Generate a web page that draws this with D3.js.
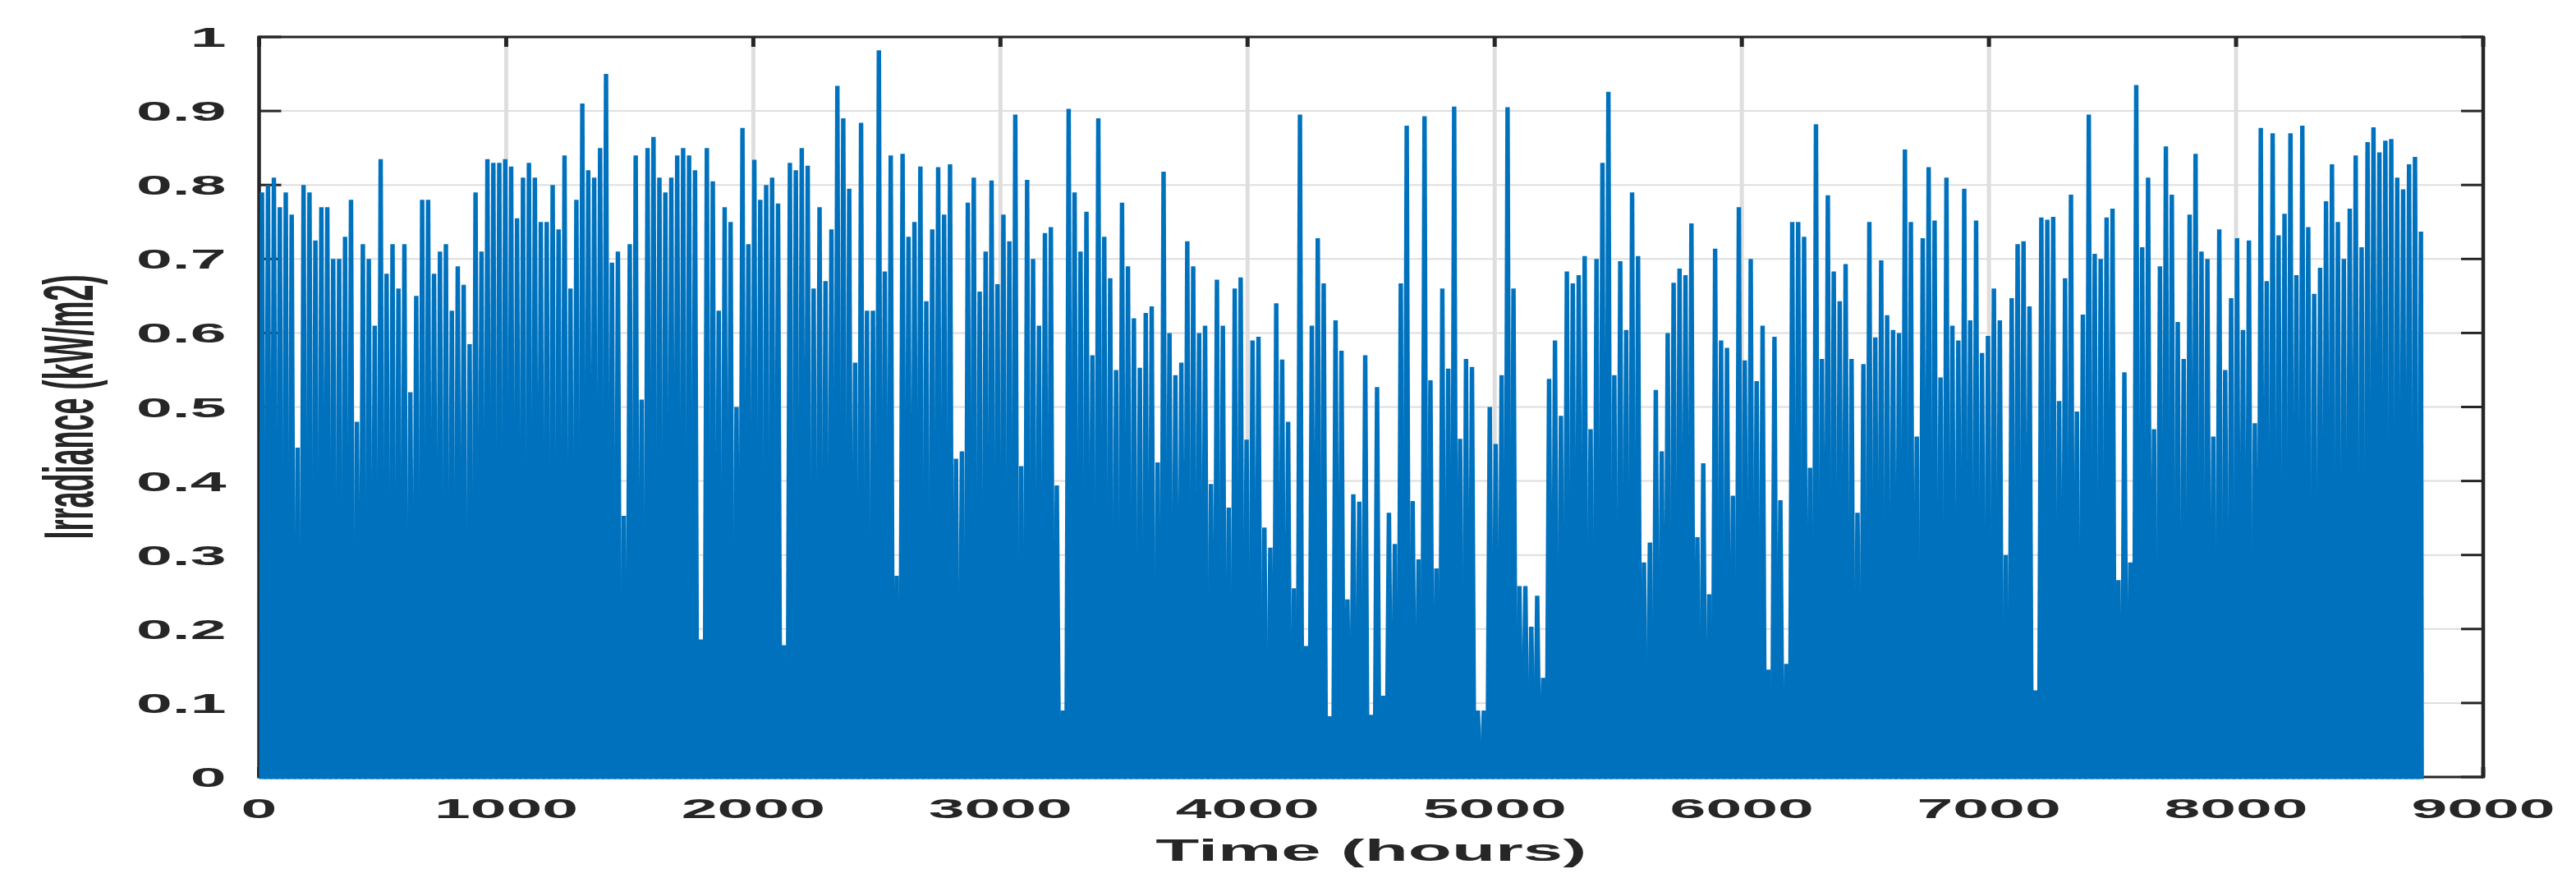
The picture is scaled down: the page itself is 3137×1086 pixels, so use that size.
<!DOCTYPE html>
<html>
<head>
<meta charset="utf-8">
<script src="https://cdn.jsdelivr.net/npm/d3@7/dist/d3.min.js"></script>
<style>
    body { margin: 0; background: #fff; }
    text { font-family: "Liberation Sans", Arial, sans-serif; font-weight: bold; fill: #262626; }
</style>
</head>
<body>
<div class="container"></div>
<script>
// daily peak irradiance (kW/m2), one value per day
var dailyPeak = [
    0.79, 0.80, 0.81, 0.77, 0.79, 0.76, 0.445, 0.80, 0.79, 0.725,
    0.77, 0.77, 0.70, 0.70, 0.73, 0.78, 0.48, 0.72, 0.70, 0.61,
    0.835, 0.68, 0.72, 0.66, 0.72, 0.52, 0.65, 0.78, 0.78, 0.68,
    0.71, 0.72, 0.63, 0.69, 0.665, 0.585, 0.79, 0.71, 0.835, 0.83,
    0.83, 0.835, 0.825, 0.755, 0.81, 0.83, 0.81, 0.75, 0.75, 0.80,
    0.74, 0.84, 0.66, 0.78, 0.91, 0.82, 0.81, 0.85, 0.95, 0.695,
    0.71, 0.353, 0.72, 0.84, 0.51, 0.85, 0.865, 0.81, 0.79, 0.81,
    0.84, 0.85, 0.84, 0.82, 0.186, 0.85, 0.805, 0.63, 0.77, 0.75,
    0.50, 0.877, 0.72, 0.834, 0.78, 0.80, 0.81, 0.775, 0.178, 0.83,
    0.82, 0.85, 0.826, 0.66, 0.77, 0.67, 0.74, 0.934, 0.89, 0.795,
    0.56, 0.884, 0.63, 0.63, 0.982, 0.683, 0.84, 0.272, 0.842, 0.73,
    0.75, 0.825, 0.643, 0.74, 0.824, 0.76, 0.828, 0.43, 0.44, 0.776,
    0.81, 0.656, 0.71, 0.806, 0.666, 0.76, 0.724, 0.895, 0.42, 0.807,
    0.70, 0.61, 0.735, 0.743, 0.394, 0.09, 0.903, 0.79, 0.71, 0.764,
    0.57, 0.89, 0.73, 0.674, 0.55, 0.776, 0.69, 0.62, 0.553, 0.627,
    0.636, 0.425, 0.818, 0.60, 0.543, 0.56, 0.724, 0.69, 0.60, 0.61,
    0.396, 0.672, 0.61, 0.364, 0.66, 0.675, 0.456, 0.59, 0.595, 0.337,
    0.31, 0.64, 0.564, 0.48, 0.255, 0.895, 0.177, 0.61, 0.728, 0.667,
    0.082, 0.617, 0.576, 0.24, 0.382, 0.372, 0.57, 0.084, 0.527, 0.11,
    0.357, 0.315, 0.667, 0.88, 0.373, 0.294, 0.893, 0.536, 0.282, 0.66,
    0.552, 0.906, 0.457, 0.565, 0.554, 0.09, 0.09, 0.50, 0.45, 0.543,
    0.905, 0.66, 0.258, 0.258, 0.203, 0.245, 0.134, 0.538, 0.59, 0.488,
    0.683, 0.667, 0.678, 0.704, 0.47, 0.70, 0.83, 0.926, 0.543, 0.697,
    0.604, 0.79, 0.704, 0.29, 0.317, 0.523, 0.44, 0.60, 0.668, 0.687,
    0.678, 0.748, 0.324, 0.424, 0.247, 0.714, 0.59, 0.58, 0.38, 0.77,
    0.563, 0.70, 0.535, 0.61, 0.145, 0.595, 0.374, 0.153, 0.75, 0.75,
    0.73, 0.418, 0.882, 0.565, 0.786, 0.683, 0.643, 0.693, 0.565, 0.357,
    0.558, 0.75, 0.594, 0.698, 0.624, 0.604, 0.60, 0.848, 0.75, 0.46,
    0.728, 0.824, 0.752, 0.54, 0.81, 0.61, 0.59, 0.795, 0.617, 0.752,
    0.573, 0.596, 0.66, 0.617, 0.30, 0.647, 0.72, 0.724, 0.636, 0.117,
    0.756, 0.753, 0.757, 0.508, 0.674, 0.787, 0.494, 0.625, 0.895, 0.707,
    0.70, 0.756, 0.768, 0.266, 0.547, 0.29, 0.935, 0.716, 0.81, 0.47,
    0.69, 0.852, 0.787, 0.615, 0.565, 0.76, 0.842, 0.71, 0.70, 0.46,
    0.74, 0.55, 0.647, 0.728, 0.604, 0.725, 0.478, 0.877, 0.67, 0.87,
    0.732, 0.761, 0.87, 0.678, 0.88, 0.743, 0.653, 0.688, 0.778, 0.828,
    0.75, 0.70, 0.768, 0.84, 0.716, 0.858, 0.878, 0.844, 0.86, 0.862,
    0.81, 0.794, 0.828, 0.838, 0.737
];
var hoursPerDay = 24;
var totalHours = 8760;

var xTicks = [0, 1000, 2000, 3000, 4000, 5000, 6000, 7000, 8000, 9000];
var yTicks = [0, 0.1, 0.2, 0.3, 0.4, 0.5, 0.6, 0.7, 0.8, 0.9, 1];
var yTickLabels = ['0', '0.1', '0.2', '0.3', '0.4', '0.5', '0.6', '0.7', '0.8', '0.9', '1'];
var xLabel = 'Time (hours)';
var yLabel = 'Irradiance (kW/m2)';

!function () {
    var width = 3137, height = 1086;
    var margin = {top: 45, right: 113, bottom: 140, left: 315.5};
    var stretch = 2.35;          // the source picture is squeezed out sideways
    var ink = '#262626';
    var blue = '#0072bd';

    var svg = d3.select('.container')
        .append('svg')
        .attr('width', width)
        .attr('height', height);

    var x = d3.scaleLinear()
        .domain([0, 9000])
        .range([margin.left, width - margin.right]);
    var y = d3.scaleLinear()
        .domain([0, 1])
        .range([height - margin.bottom, margin.top]);

    var x0 = x.range()[0], x1 = x.range()[1];
    var y0 = y.range()[0], y1 = y.range()[1];

    // grid
    svg.append('g').selectAll('line')
        .data(yTicks.slice(1, -1))
        .enter()
        .append('line')
        .attr('x1', x0).attr('x2', x1)
        .attr('y1', function (d) { return y(d); })
        .attr('y2', function (d) { return y(d); })
        .attr('stroke', '#dedede')
        .attr('stroke-width', 2);
    svg.append('g').selectAll('line')
        .data(xTicks.slice(1, -1))
        .enter()
        .append('line')
        .attr('y1', y0).attr('y2', y1)
        .attr('x1', function (d) { return x(d); })
        .attr('x2', function (d) { return x(d); })
        .attr('stroke', '#dedede')
        .attr('stroke-width', 5);

    // tick marks, inside on all four sides
    var ticks = svg.append('g').attr('stroke', ink);
    yTicks.forEach(function (d) {
        ticks.append('line').attr('x1', x0).attr('x2', x0 + 27)
            .attr('y1', y(d)).attr('y2', y(d)).attr('stroke-width', 3);
        ticks.append('line').attr('x1', x1).attr('x2', x1 - 27)
            .attr('y1', y(d)).attr('y2', y(d)).attr('stroke-width', 3);
    });
    xTicks.forEach(function (d) {
        ticks.append('line').attr('x1', x(d)).attr('x2', x(d))
            .attr('y1', y0).attr('y2', y0 - 12).attr('stroke-width', 5);
        ticks.append('line').attr('x1', x(d)).attr('x2', x(d))
            .attr('y1', y1).attr('y2', y1 + 12).attr('stroke-width', 5);
    });

    // box
    var box = svg.append('g').attr('stroke', ink);
    box.append('line').attr('x1', x0).attr('x2', x1).attr('y1', y1).attr('y2', y1).attr('stroke-width', 3);
    box.append('line').attr('x1', x0).attr('x2', x1).attr('y1', y0).attr('y2', y0).attr('stroke-width', 3);
    box.append('line').attr('x1', x0).attr('x2', x0).attr('y1', y0 + 1.5).attr('y2', y1 - 1.5).attr('stroke-width', 4.5);
    box.append('line').attr('x1', x1).attr('x2', x1).attr('y1', y0 + 1.5).attr('y2', y1 - 1.5).attr('stroke-width', 4.5);

    // daily irradiance profile: rises after dawn, flat around noon, falls at dusk
    var rise = [-6, 3, 21, 30];
    var baseDrop = 2.5;
    var line = d3.line()
        .x(function (p) { return x(Math.max(0, Math.min(totalHours, p[0]))); })
        .y(function (p) { return p[1] === 0 ? y(0) + baseDrop : y(p[1]); });

    svg.append('g')
        .selectAll('path')
        .data(dailyPeak)
        .enter()
        .append('path')
        .attr('d', function (d, i) {
            var h = i * hoursPerDay;
            return line([[h + rise[0], 0], [h + rise[1], d], [h + rise[2], d], [h + rise[3], 0]]) + 'Z';
        })
        .attr('fill', blue);

    // tick labels
    svg.append('g').selectAll('text')
        .data(yTicks)
        .enter()
        .append('text')
        .attr('transform', function (d) { return 'translate(' + (x0 - 40) + ',' + y(d) + ') scale(' + stretch + ',1)'; })
        .attr('dy', '0.36em')
        .attr('text-anchor', 'end')
        .style('font-size', '33.5px')
        .text(function (d, i) { return yTickLabels[i]; });

    svg.append('g').selectAll('text')
        .data(xTicks)
        .enter()
        .append('text')
        .attr('transform', function (d) { return 'translate(' + x(d) + ',' + (y0 + 50) + ') scale(' + stretch + ',1)'; })
        .attr('text-anchor', 'middle')
        .style('font-size', '33.5px')
        .text(function (d) { return d; });

    // axis labels
    svg.append('text')
        .attr('transform', 'translate(' + (x0 + x1) / 2 + ',' + (y0 + 102) + ') scale(' + stretch + ',1)')
        .attr('text-anchor', 'middle')
        .style('font-size', '37px')
        .text(xLabel);

    svg.append('text')
        .attr('transform', 'translate(113,' + (y0 + y1) / 2 + ') scale(' + stretch + ',1) rotate(-90)')
        .attr('text-anchor', 'middle')
        .style('font-size', '36px')
        .text(yLabel);
}();
</script>
</body>
</html>
